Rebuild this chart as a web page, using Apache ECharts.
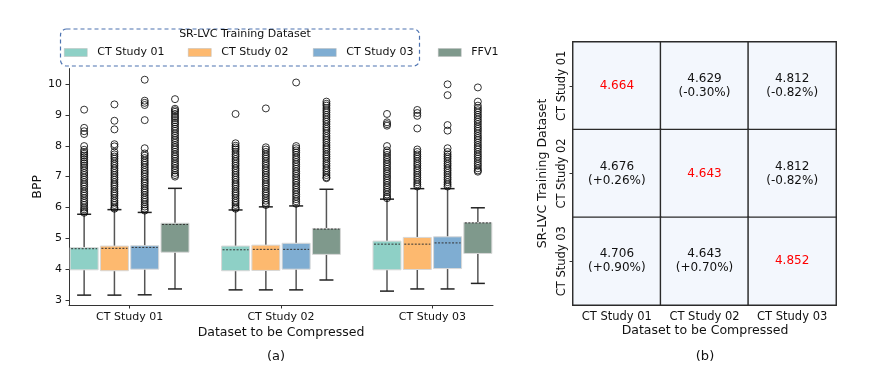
<!DOCTYPE html>
<html>
<head>
<meta charset="utf-8">
<script src="https://cdn.jsdelivr.net/npm/echarts@6/dist/echarts.min.js"></script>
<style>
  html, body { margin: 0; padding: 0; background: #fff; }
  #chart { width: 872px; height: 381px; }
</style>
</head>
<body>
<div id="chart"></div>
<script>
// compressed datasets (x groups) and training datasets (box colours)
const groups = ['CT Study 01', 'CT Study 02', 'CT Study 03'];
const trainSets = ['CT Study 01', 'CT Study 02', 'CT Study 03', 'FFV1'];
const yTicks = [3, 4, 5, 6, 7, 8, 9, 10];

// box stats per compressed dataset: [lower whisker, q1, q3, upper whisker, mean]
const ct01Box = [[3.16, 3.98, 4.70, 5.78, 4.664], [3.33, 3.95, 4.75, 5.92, 4.629], [3.29, 3.98, 4.91, 6.27, 4.812]];
const ct02Box = [[3.16, 3.95, 4.75, 5.93, 4.676], [3.33, 3.96, 4.78, 6.02, 4.643], [3.36, 3.99, 5.03, 6.61, 4.812]];
const ct03Box = [[3.17, 4.00, 4.76, 5.84, 4.706], [3.33, 4.00, 4.84, 6.05, 4.643], [3.36, 4.02, 5.05, 6.61, 4.852]];
const ffv1Box = [[3.36, 4.55, 5.49, 6.62, 5.45], [3.65, 4.48, 5.32, 6.59, 5.30], [3.54, 4.51, 5.51, 5.99, 5.50]];

// outliers per compressed dataset
const ct01Out = [
  [9.17, 8.58, 8.47, 8.38, 7.99, 7.87, 7.8, 7.74, 7.68, 7.62, 7.55, 7.48, 7.42, 7.35, 7.28, 7.2, 7.12, 7.05, 6.97, 6.9, 6.82, 6.75, 6.68, 6.6, 6.52, 6.45, 6.38, 6.3, 6.22, 6.15, 6.08, 6.0, 5.94, 5.88, 5.83],
  [9.03, 8.08, 8.0, 7.94, 7.88, 7.8, 7.72, 7.65, 7.57, 7.5, 7.42, 7.35, 7.27, 7.2, 7.12, 7.05, 6.97, 6.9, 6.82, 6.75, 6.68, 6.6, 6.52, 6.45, 6.38, 6.3, 6.22, 6.15, 6.08, 6.0, 5.96],
  [9.03, 8.76, 8.7, 8.65, 7.99, 7.85, 7.78, 7.7, 7.62, 7.55, 7.47, 7.4, 7.32, 7.25, 7.17, 7.1, 7.02, 6.95, 6.87, 6.8, 6.72, 6.65, 6.57, 6.5, 6.42, 6.35, 6.3]
];
const ct02Out = [
  [9.34, 8.81, 8.53, 8.05, 7.98, 7.8, 7.72, 7.65, 7.58, 7.5, 7.42, 7.35, 7.27, 7.2, 7.12, 7.05, 6.97, 6.9, 6.82, 6.75, 6.68, 6.6, 6.52, 6.45, 6.38, 6.3, 6.22, 6.15, 6.08, 6.0, 5.96],
  [9.21, 7.95, 7.88, 7.8, 7.72, 7.65, 7.58, 7.5, 7.42, 7.35, 7.27, 7.2, 7.12, 7.05, 6.97, 6.9, 6.82, 6.75, 6.68, 6.6, 6.52, 6.45, 6.38, 6.3, 6.22, 6.15, 6.08],
  [9.16, 9.06, 8.97, 8.56, 7.88, 7.8, 7.72, 7.65, 7.58, 7.5, 7.42, 7.35, 7.27, 7.2, 7.12, 7.05, 6.97, 6.9, 6.82, 6.75, 6.68]
];
const ct03Out = [
  [10.14, 9.46, 9.39, 9.32, 8.83, 7.92, 7.75, 7.68, 7.6, 7.52, 7.45, 7.38, 7.3, 7.22, 7.15, 7.08, 7.0, 6.92, 6.85, 6.78, 6.7, 6.62, 6.55, 6.48, 6.4, 6.32, 6.25, 6.18, 6.1, 6.03, 5.96, 5.9],
  [10.05, 7.99, 7.92, 7.85, 7.78, 7.7, 7.62, 7.55, 7.47, 7.4, 7.32, 7.25, 7.17, 7.1, 7.02, 6.95, 6.87, 6.8, 6.72, 6.65, 6.57, 6.5, 6.42, 6.35, 6.27, 6.2, 6.12],
  [9.99, 9.64, 8.67, 8.49, 7.92, 7.8, 7.72, 7.65, 7.58, 7.5, 7.42, 7.35, 7.27, 7.2, 7.12, 7.05, 6.97, 6.9, 6.82, 6.75, 6.68]
];
const ffv1Out = [
  [9.51, 9.2, 9.15, 9.1, 9.03, 8.96, 8.9, 8.83, 8.76, 8.7, 8.62, 8.55, 8.48, 8.4, 8.33, 8.25, 8.18, 8.1, 8.02, 7.95, 7.88, 7.8, 7.72, 7.65, 7.58, 7.5, 7.42, 7.35, 7.27, 7.2, 7.12, 7.05, 7.0],
  [9.43, 9.36, 9.3, 9.22, 9.15, 9.08, 9.0, 8.93, 8.85, 8.78, 8.7, 8.62, 8.55, 8.48, 8.4, 8.32, 8.25, 8.18, 8.1, 8.02, 7.95, 7.88, 7.8, 7.72, 7.65, 7.58, 7.5, 7.42, 7.35, 7.27, 7.2, 7.12, 7.05, 6.98, 6.95],
  [9.89, 9.43, 9.3, 9.22, 9.15, 9.08, 9.0, 8.93, 8.85, 8.78, 8.7, 8.62, 8.55, 8.48, 8.4, 8.32, 8.25, 8.18, 8.1, 8.02, 7.95, 7.88, 7.8, 7.72, 7.65, 7.58, 7.5, 7.42, 7.35, 7.27, 7.2, 7.16]
];

// heatmap: rows = training dataset, cols = dataset to be compressed
const heatValues = [
  [4.664, 4.629, 4.812],
  [4.676, 4.643, 4.812],
  [4.706, 4.643, 4.852]
];
const heatDiff = [
  [null, '-0.30%', '-0.82%'],
  ['+0.26%', null, '-0.82%'],
  ['+0.90%', '+0.70%', null]
];

const boxStats = [ct01Box, ct02Box, ct03Box, ffv1Box];
const outliers = [ct01Out, ct02Out, ct03Out, ffv1Out];
const colors = ['#8ed0c6', '#fdb96f', '#7fadd2', '#7f998c'];
const offsets = [-0.3, -0.1, 0.1, 0.3];
const groupPos = [0, 1, 2];
const boxW = 0.185;
const font = 'DejaVu Sans';

function renderBox(params, api) {
  const x = api.value(0);
  const lo = api.coord([x, api.value(1)]);
  const q1 = api.coord([x, api.value(2)]);
  const q3 = api.coord([x, api.value(3)]);
  const hi = api.coord([x, api.value(4)]);
  const mean = api.coord([x, api.value(5)]);
  const w = api.size([boxW, 0])[0];
  const cx = lo[0];
  const cap = w / 2;
  const color = api.visual('color');
  return {
    type: 'group',
    children: [
      { type: 'line', shape: { x1: cx, y1: q1[1], x2: cx, y2: lo[1] }, style: { stroke: '#555', lineWidth: 1.5 } },
      { type: 'line', shape: { x1: cx, y1: q3[1], x2: cx, y2: hi[1] }, style: { stroke: '#555', lineWidth: 1.5 } },
      { type: 'line', shape: { x1: cx - cap / 2, y1: lo[1], x2: cx + cap / 2, y2: lo[1] }, style: { stroke: '#222', lineWidth: 1.5 } },
      { type: 'line', shape: { x1: cx - cap / 2, y1: hi[1], x2: cx + cap / 2, y2: hi[1] }, style: { stroke: '#222', lineWidth: 1.5 } },
      { type: 'rect', shape: { x: cx - w / 2, y: q3[1], width: w, height: q1[1] - q3[1] }, style: { fill: color, stroke: '#d8d8d8', lineWidth: 1 } },
      { type: 'line', shape: { x1: cx - w / 2 + 1, y1: mean[1], x2: cx + w / 2 - 1, y2: mean[1] }, style: { stroke: '#333', lineWidth: 1, lineDash: [2, 1.5] } }
    ]
  };
}

const series = [];
trainSets.forEach((name, s) => {
  series.push({
    name: name,
    type: 'custom',
    xAxisIndex: 0,
    yAxisIndex: 0,
    itemStyle: { color: colors[s] },
    renderItem: renderBox,
    encode: { x: 0, y: [1, 2, 3, 4, 5] },
    data: boxStats[s].map((b, g) => [g + offsets[s]].concat(b)),
    z: 2
  });
});
trainSets.forEach((name, s) => {
  const pts = [];
  outliers[s].forEach((vals, g) => vals.forEach(v => pts.push([g + offsets[s], v])));
  series.push({
    name: 'outliers ' + name,
    type: 'scatter',
    xAxisIndex: 0,
    yAxisIndex: 0,
    symbol: 'circle',
    symbolSize: 7,
    itemStyle: { color: 'rgba(0,0,0,0)', borderColor: '#000', borderWidth: 1 },
    data: pts,
    z: 3
  });
});

const heatData = [];
heatValues.forEach((row, r) => row.forEach((v, c) => heatData.push([c, r, v])));
series.push({
  name: 'heat',
  type: 'heatmap',
  xAxisIndex: 1,
  yAxisIndex: 1,
  itemStyle: { color: '#f3f7fd', borderColor: '#2a2a2a', borderWidth: 1.4 },
  label: {
    show: true,
    fontFamily: font,
    fontSize: 12,
    color: '#111',
    lineHeight: 14,
    formatter: p => {
      const c = p.value[0], r = p.value[1];
      const d = heatDiff[r][c];
      return d ? p.value[2].toFixed(3) + '\n(' + d + ')' : '{red|' + p.value[2].toFixed(3) + '}';
    },
    rich: { red: { color: '#ff0000', fontFamily: font, fontSize: 12 } }
  },
  emphasis: { disabled: true },
  data: heatData
});

const legendPos = [64, 188, 313, 438];
const legends = trainSets.map((name, i) => ({
  data: [name],
  left: legendPos[i],
  top: 47,
  padding: 0,
  icon: 'rect',
  itemWidth: 23,
  itemHeight: 8,
  itemStyle: { borderColor: '#bbb', borderWidth: 0.5 },
  textStyle: { fontFamily: font, fontSize: 11, color: '#111', padding: [0, 0, 0, 5] },
  selectedMode: false
}));

const baseGraphics = [
  {
    type: 'rect', left: 58, top: 26.5, z: 10,
    shape: { width: 359, height: 37, r: 6 },
    style: { fill: 'none', stroke: '#4c72b0', lineWidth: 1.2, lineDash: [4, 3] }
  },
  {
    type: 'text', x: 245, y: 34, z: 10,
    style: { text: 'SR-LVC Training Dataset', fontFamily: font, fontSize: 11, fill: '#111', textAlign: 'center', textVerticalAlign: 'middle' }
  },
  {
    type: 'text', x: 281, y: 333, z: 10,
    style: { text: 'Dataset to be Compressed', fontFamily: font, fontSize: 12.5, fill: '#111', textAlign: 'center', textVerticalAlign: 'middle' }
  },
  {
    type: 'text', x: 705, y: 331, z: 10,
    style: { text: 'Dataset to be Compressed', fontFamily: font, fontSize: 12.5, fill: '#111', textAlign: 'center', textVerticalAlign: 'middle' }
  },
  {
    type: 'text', x: 276, y: 357, z: 10,
    style: { text: '(a)', fontFamily: font, fontSize: 13, fill: '#111', textAlign: 'center', textVerticalAlign: 'middle' }
  },
  {
    type: 'text', x: 705, y: 357, z: 10,
    style: { text: '(b)', fontFamily: font, fontSize: 13, fill: '#111', textAlign: 'center', textVerticalAlign: 'middle' }
  }
];

const chart = echarts.init(document.getElementById('chart'), null, { renderer: 'canvas' });
chart.setOption({
  animation: false,
  textStyle: { fontFamily: font },
  legend: legends,
  grid: [
    { left: 69, right: 379, top: 68.6, bottom: 76 },
    { left: 573, right: 36, top: 42, bottom: 76 }
  ],
  xAxis: [
    {
      type: 'value', gridIndex: 0, min: -0.4, max: 2.4,
      splitLine: { show: false },
      axisLine: { onZero: false, lineStyle: { color: '#333', width: 1 } },
      axisTick: { customValues: groupPos, length: 3.5, lineStyle: { color: '#333' } },
      axisLabel: { show: false }
    },
    {
      type: 'category', gridIndex: 1, data: groups,
      axisLine: { onZero: false, lineStyle: { color: '#333', width: 1.5 } },
      axisTick: { alignWithLabel: true, interval: 0, length: 3.5, lineStyle: { color: '#333' } },
      axisLabel: { interval: 0, hideOverlap: false, fontFamily: font, fontSize: 11.5, color: '#111', margin: 6 }
    }
  ],
  yAxis: [
    {
      type: 'value', gridIndex: 0, min: 2.84, max: 10.5,
      splitLine: { show: false },
      axisLine: { show: true, onZero: false, lineStyle: { color: '#333', width: 1 } },
      axisTick: { show: true, customValues: yTicks, length: 3.5, lineStyle: { color: '#333' } },
      axisLabel: { customValues: yTicks, fontFamily: font, fontSize: 11, color: '#111', margin: 7 },
      name: 'BPP', nameLocation: 'middle', nameRotate: 90, nameGap: 24,
      nameTextStyle: { fontFamily: font, fontSize: 12.5, color: '#111' }
    },
    {
      type: 'category', gridIndex: 1, data: groups, inverse: true,
      axisLine: { show: true, onZero: false, lineStyle: { color: '#333', width: 1.5 } },
      axisTick: { show: true, alignWithLabel: true, interval: 0, length: 3.5, lineStyle: { color: '#333' } },
      axisLabel: { rotate: 90, interval: 0, hideOverlap: false, fontFamily: font, fontSize: 11.5, color: '#111', margin: 5 },
      name: 'SR-LVC Training Dataset', nameLocation: 'middle', nameRotate: 90, nameGap: 24,
      nameTextStyle: { fontFamily: font, fontSize: 12.5, color: '#111' }
    }
  ],
  graphic: baseGraphics,
  series: series
});

// group labels of the box plot, placed through the x scale, drawn on top
const groupLabels = groupPos.map((g, i) => ({
  type: 'text',
  z: 100,
  zlevel: 1,
  x: chart.convertToPixel({ xAxisIndex: 0 }, g),
  y: 317,
  style: { text: groups[i], fontFamily: font, fontSize: 11, fill: '#111', textAlign: 'center', textVerticalAlign: 'middle' }
}));
chart.setOption({ graphic: baseGraphics.concat(groupLabels) });
</script>
</body>
</html>
